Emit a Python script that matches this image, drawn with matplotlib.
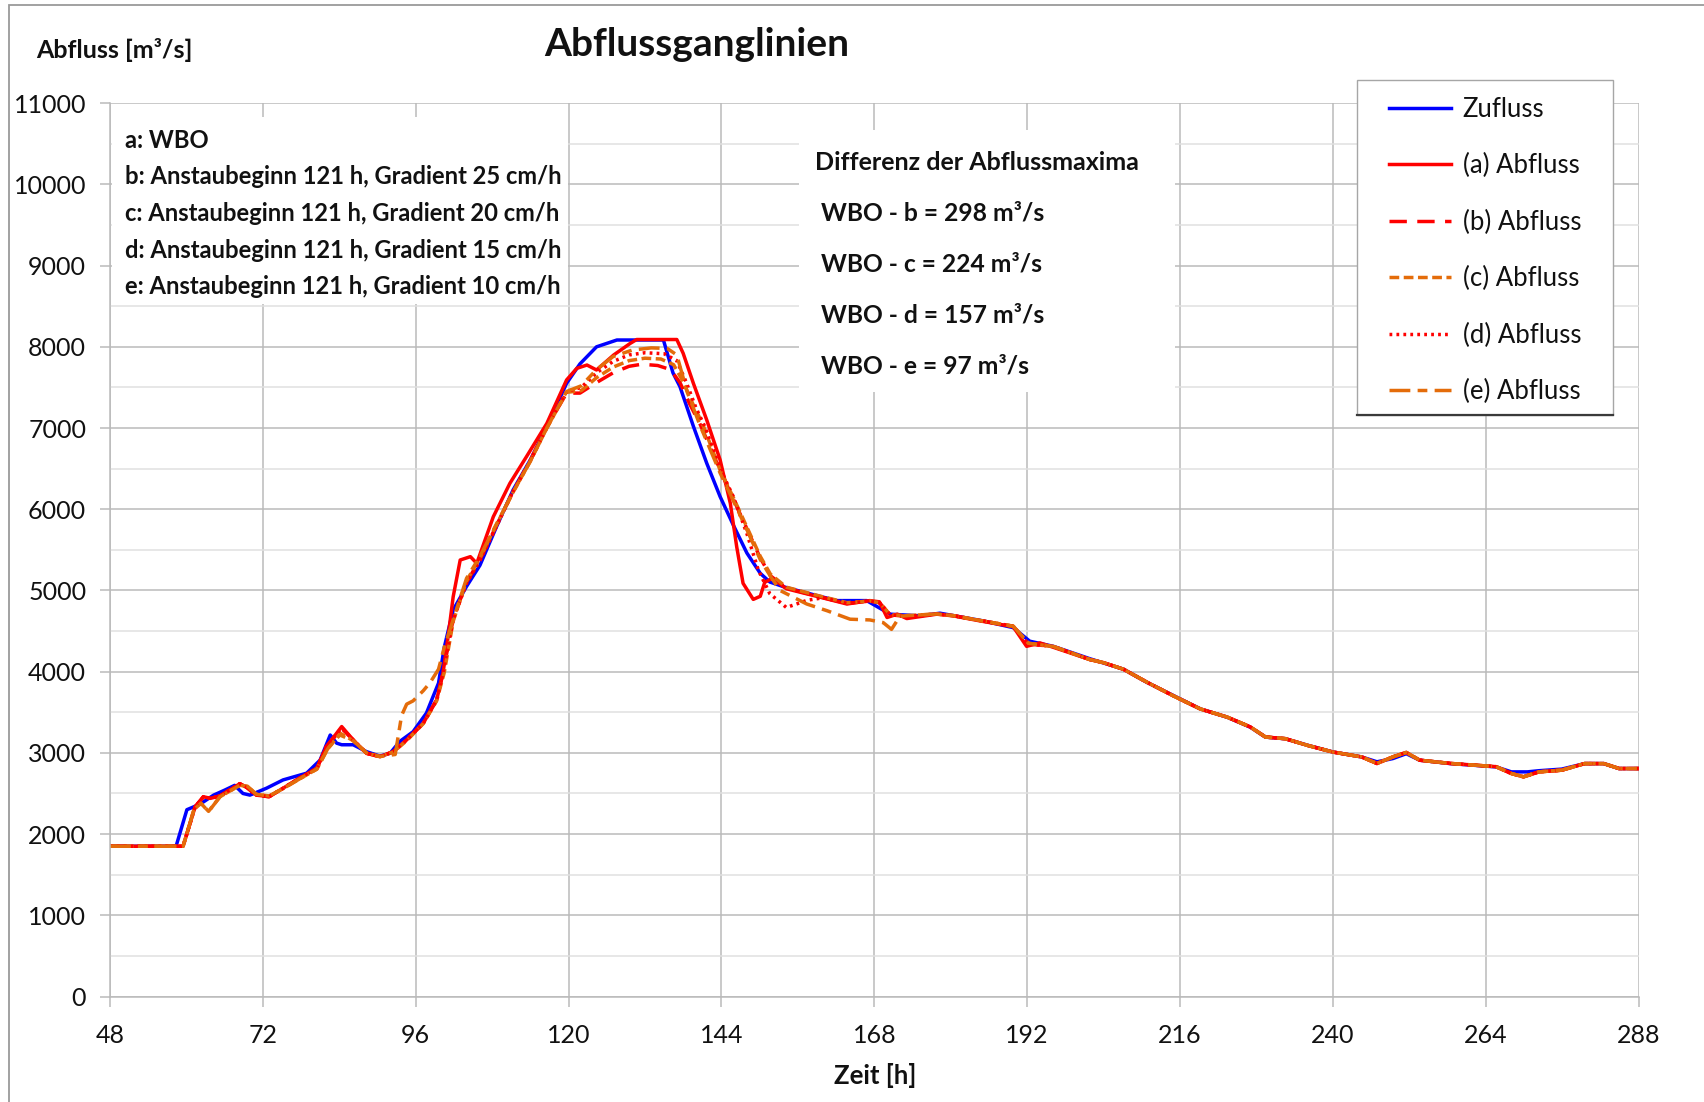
import numpy as np
import matplotlib.pyplot as plt
from matplotlib.patches import Rectangle
from matplotlib.lines import Line2D

plt.rcParams['font.family'] = ['Lato', 'DejaVu Sans']

# Zufluss (blue)
t_zu = [48, 58.4, 60.1, 62.2, 64.3, 66, 67.6, 68.9, 70.0, 72.6, 75.2, 78.9, 81.0, 82.6, 83.6, 84.4, 86.2, 88.3,
        90.4, 92.0, 93.5, 95.6, 97.7, 99.6, 100.5, 101.9, 104.0, 106.1, 108.7, 111.3, 114.0, 116.6, 119.7, 121.8,
        124.4, 127.6, 134.9, 136.4, 137.5, 139.6, 141.7, 143.8, 145.9, 148.0, 150.1, 151.6, 154, 156.9, 162.1,
        166.8, 170.5, 175.2, 178.3, 185.1, 189.8, 192.4, 196.1, 201.8, 207.1, 210.8, 215, 219.2, 223.4, 227,
        229.4, 232.5, 236.1, 240, 244.5, 246.9, 249.4, 251.5, 253.6, 258.4, 262, 265.6, 268, 270.5, 272.3,
        275.9, 279.5, 282.5, 284.9, 288]
q_zu = [1850, 1850, 2300, 2370, 2480, 2540, 2600, 2500, 2480, 2565, 2667, 2750, 2910, 3220, 3120, 3100, 3100, 3015,
        2960, 2995, 3140, 3260, 3490, 3860, 4300, 4760, 5050, 5310, 5785, 6237, 6607, 7016, 7551, 7790,
        8000, 8084, 8084, 7679, 7509, 7022, 6566, 6155, 5800, 5461, 5211, 5104, 5040, 4979, 4875,
        4875, 4708, 4687, 4720, 4625, 4542, 4375, 4312, 4160, 4031, 3868, 3704, 3541, 3439, 3317,
        3194, 3174, 3092, 3011, 2950, 2890, 2930, 2990, 2910, 2868, 2848, 2827, 2766, 2766, 2780,
        2800, 2868, 2868, 2807, 2807]

# common tail of the outflow series (a)-(e)
t_tail = [201.8, 204, 207.1, 210.8, 215, 219.2, 223.4, 227, 229.4, 232.5, 236.1, 240, 244.5, 246.9, 249.4,
          251.5, 253.6, 258.4, 262, 265.6, 268, 269.9, 272.3, 275.9, 279.5, 282.5, 284.9, 288]
q_tail = [4150, 4110, 4030, 3870, 3700, 3540, 3440, 3320, 3195, 3175, 3090, 3010, 2950, 2870, 2950,
          3005, 2910, 2870, 2850, 2830, 2746, 2705, 2766, 2787, 2868, 2868, 2807, 2807]

# (a) WBO
t_a = [48, 59.5, 61.4, 62.7, 63.8, 65.3, 68.4, 69.4, 71.0, 73.0, 75.2, 77.8, 80.5, 82.0, 84.4, 86.2, 88.3, 90.4,
       92.5, 94.6, 97.2, 99.3, 100.3, 101.1, 101.9, 103.0, 104.6, 105.6, 108.2, 110.8, 113.4, 116.6, 119.7, 121.3,
       122.9, 124.4, 127.1, 129.7, 130.7, 137.0, 138.0, 139.6, 141.7, 143.8, 145.4, 146.4, 147.4, 149.0, 150.1,
       150.8, 152, 154.2, 159.5, 163.7, 167.3, 168.8, 170.0, 171.6, 173.1, 177.8, 180.4, 184.6, 189.8, 191.9,
       194.0, 196.1]
q_a = [1850, 1850, 2337, 2460, 2440, 2470, 2620, 2580, 2480, 2460, 2565, 2690, 2810, 3077, 3324, 3160, 2995, 2953,
       3015, 3160, 3364, 3652, 3980, 4431, 4923, 5375, 5416, 5334, 5908, 6319, 6647, 7057, 7592, 7735,
       7776, 7715, 7900, 8043, 8090, 8090, 7920, 7551, 7099, 6607, 6073, 5539, 5088, 4890, 4928,
       5100, 5150, 5021, 4917, 4833, 4875, 4860, 4667, 4708, 4654, 4708, 4687, 4625, 4554, 4312,
       4354, 4300]

# (b) gradient 25 cm/h
t_b = [48, 59.5, 61.4, 62.7, 63.8, 65.3, 68.4, 69.4, 71.0, 73.0, 75.2, 77.8, 80.5, 82.0, 84.4, 86.2, 88.3, 90.4,
       92.5, 94.6, 97.2, 99.3, 100.3, 101.9, 104.0, 106.1, 108.7, 111.3, 114.0, 116.6, 119.7, 121.8, 124.4, 127.0,
       129.5, 131.5, 134.0, 136.0, 137.5, 139.0, 140.7, 143.8, 145.9, 148.0, 150.1, 151.7, 154.2, 159.5, 163.7,
       167.3, 168.8, 170.5, 173.1, 177.8, 180.4, 184.6, 189.8, 192.2, 196.1]
q_b = [1850, 1850, 2337, 2460, 2440, 2470, 2620, 2580, 2480, 2460, 2565, 2690, 2810, 3077, 3300, 3160, 2995, 2953,
       3015, 3160, 3364, 3652, 3980, 4650, 5100, 5380, 5800, 6220, 6600, 7010, 7430, 7430, 7560, 7680,
       7760, 7786, 7770, 7720, 7560, 7300, 7040, 6480, 6120, 5760, 5400, 5180, 5030, 4920, 4840,
       4870, 4850, 4700, 4680, 4710, 4690, 4630, 4560, 4340, 4310]

# (c) gradient 20 cm/h
t_c = [48, 59.5, 61.2, 62.3, 63.5, 65.3, 68.4, 69.6, 71.0, 73.0, 75.2, 77.8, 80.5, 82.2, 84.2, 86.2, 88.3, 90.4,
       92.5, 94.6, 97.2, 99.3, 100.5, 101.9, 104.0, 106.1, 108.7, 111.3, 114.0, 116.6, 119.7, 122.0, 124.4, 127.0,
       129.5, 132.0, 134.5, 136.5, 138.0, 139.5, 141.0, 143.8, 145.9, 148.0, 150.1, 151.7, 154.2, 159.5, 163.7,
       167.3, 168.8, 170.5, 173.1, 177.8, 180.4, 184.6, 189.8, 192.2, 196.1]
q_c = [1850, 1850, 2300, 2380, 2280, 2460, 2600, 2590, 2490, 2470, 2560, 2680, 2800, 3050, 3240, 3150, 3000, 2955,
       3010, 3150, 3360, 3640, 3990, 4620, 5120, 5400, 5810, 6210, 6590, 7000, 7440, 7460, 7620, 7750,
       7830, 7860, 7850, 7780, 7570, 7300, 7060, 6480, 6140, 5780, 5420, 5200, 5040, 4930, 4850,
       4870, 4850, 4700, 4690, 4710, 4690, 4630, 4560, 4350, 4310]

# (d) gradient 15 cm/h
t_d = [48, 59.5, 61.4, 62.7, 63.8, 65.3, 68.4, 69.4, 71.0, 73.0, 75.2, 77.8, 80.5, 82.0, 84.4, 86.2, 88.3, 90.4,
       92.5, 94.6, 97.2, 99.3, 100.3, 101.9, 104.0, 106.1, 108.7, 111.3, 114.0, 116.6, 119.7, 122.0, 124.4, 127.0,
       129.5, 132.0, 135.0, 137.0, 138.5, 140.0, 141.5, 143.8, 145.9, 148.0, 149.8, 151.6, 154.2, 157.5, 160.0,
       163.7, 167.3, 168.8, 170.5, 173.1, 177.8, 180.4, 184.6, 189.8, 192.2, 196.1]
q_d = [1850, 1850, 2337, 2460, 2440, 2470, 2620, 2580, 2480, 2460, 2565, 2690, 2810, 3077, 3310, 3160, 2995, 2953,
       3015, 3160, 3364, 3652, 3980, 4640, 5090, 5370, 5790, 6220, 6600, 7010, 7450, 7500, 7680, 7820,
       7900, 7927, 7915, 7830, 7560, 7250, 7000, 6500, 6150, 5700, 5250, 4960, 4790, 4880, 4910,
       4840, 4870, 4850, 4700, 4680, 4710, 4690, 4630, 4560, 4340, 4310]

# (e) gradient 10 cm/h
t_e = [48, 59.5, 61.2, 62.3, 63.5, 65.3, 68.4, 69.6, 71.0, 73.0, 75.2, 77.8, 80.5, 82.2, 84.1, 86.2, 88.3, 90.4,
       92.8, 93.8, 94.6, 95.6, 97.2, 98.3, 99.6, 100.5, 101.9, 104.0, 106.1, 108.7, 111.3, 114.0, 116.6, 119.7,
       122.0, 124.4, 127.0, 130.0, 133.0, 135.5, 137.0, 138.6, 140.7, 143.8, 145.9, 148.0, 150.1, 151.7, 153.2,
       157.4, 160.6, 164.2, 167.3, 169.4, 170.7, 172.0, 173.1, 177.8, 180.4, 184.6, 189.8, 192.2, 196.1]
q_e = [1850, 1850, 2300, 2380, 2276, 2460, 2600, 2590, 2490, 2470, 2560, 2680, 2800, 3050, 3220, 3150, 3000, 2955,
       2980, 3460, 3600, 3640, 3765, 3868, 4030, 4300, 4640, 5150, 5420, 5820, 6210, 6590, 7000, 7450,
       7520, 7720, 7880, 7960, 7987, 7980, 7900, 7450, 7022, 6446, 6100, 5749, 5380, 5174, 5000,
       4833, 4750, 4646, 4637, 4604, 4521, 4680, 4690, 4710, 4690, 4630, 4560, 4350, 4310]

labels = ['Zufluss', '(a) Abfluss', '(b) Abfluss', '(c) Abfluss', '(d) Abfluss', '(e) Abfluss']
scenario_lines = ['a: WBO',
                  'b: Anstaubeginn 121 h, Gradient 25 cm/h',
                  'c: Anstaubeginn 121 h, Gradient 20 cm/h',
                  'd: Anstaubeginn 121 h, Gradient 15 cm/h',
                  'e: Anstaubeginn 121 h, Gradient 10 cm/h']
diff_lines = ['WBO - b = 298 m³/s', 'WBO - c = 224 m³/s', 'WBO - d = 157 m³/s', 'WBO - e = 97 m³/s']

BLUE = '#0000FF'
RED = '#FF0000'
ORANGE = '#E46C0A'
TXT = '#111111'
W = 1704.0
H = 1102.0

fig = plt.figure(figsize=(17.04, 11.02), dpi=100)
ax = fig.add_axes([109.8 / W, 1 - 996.5 / H, (1638.8 - 109.8) / W, (996.5 - 103.2) / H])

lw = 2.5
ax.plot(t_zu, q_zu, color=BLUE, lw=lw, label=labels[0])
ax.plot(t_a + t_tail, q_a + q_tail, color=RED, lw=lw, label=labels[1])
ax.plot(t_b + t_tail, q_b + q_tail, color=RED, lw=lw, ls=(0, (5.0, 3.0)), label=labels[2])
ax.plot(t_c + t_tail, q_c + q_tail, color=ORANGE, lw=lw, ls=(0, (2.8, 1.3)), label=labels[3])
ax.plot(t_d + t_tail, q_d + q_tail, color=RED, lw=lw, ls=(0, (0.8, 1.2)), label=labels[4])
ax.plot(t_e + t_tail, q_e + q_tail, color=ORANGE, lw=lw, ls=(0, (6.0, 2.1, 2.8, 2.1)), label=labels[5])

ax.set_xlim(48, 288)
ax.set_ylim(0, 11000)
ax.set_xticks(np.arange(48, 289, 24))
ax.set_yticks(np.arange(0, 11001, 1000))
ax.set_yticks(np.arange(500, 11000, 1000), minor=True)
ax.set_axisbelow(True)
ax.grid(which='major', color='#BABABA', lw=1.1)
ax.grid(which='minor', axis='y', color='#E0E0E0', lw=1.1)
for s in ['top', 'right']:
    ax.spines[s].set_visible(False)
for s in ['left', 'bottom']:
    ax.spines[s].set_color('#BABABA')
    ax.spines[s].set_linewidth(1.1)
ax.tick_params(which='major', direction='out', length=7, width=1.1, color='#BABABA',
               labelsize=18, pad=10, labelcolor=TXT)
ax.tick_params(axis='x', which='major', pad=13)
ax.tick_params(which='minor', length=0)

# legend with its own frame drawn as a figure patch
handles, hl = ax.get_legend_handles_labels()
fig.patches.append(Rectangle((1357 / W, 1 - 415 / H), 256 / W, 335 / H, transform=fig.transFigure,
                             facecolor='white', edgecolor='#A6A6A6', lw=1.0, zorder=2))
fig.lines.append(Line2D([1357 / W, 1613 / W], [1 - 415 / H, 1 - 415 / H], transform=fig.transFigure,
                        color='#3A3A3A', lw=1.6, zorder=2.5))
leg = fig.legend(handles, hl, loc='upper left', bbox_to_anchor=(1376 / W, 1 - 84 / H),
                 fontsize=18.5, frameon=False, borderaxespad=0, borderpad=0.5, labelspacing=1.22,
                 handlelength=2.4, handletextpad=0.47)
leg.set_zorder(5)
for t in leg.get_texts():
    t.set_color(TXT)

# white boxes behind the annotation texts
fig.patches.append(Rectangle((112 / W, 1 - 304 / H), 456 / W, 187 / H, transform=fig.transFigure,
                             facecolor='white', edgecolor='none', zorder=2))
fig.patches.append(Rectangle((799 / W, 1 - 392 / H), 376 / W, 262 / H, transform=fig.transFigure,
                             facecolor='white', edgecolor='none', zorder=2))

for i, s in enumerate(scenario_lines):
    fig.text(125 / W, 1 - (140 + i * 36.7) / H, s, fontsize=17.1, fontweight='bold', va='center',
             color=TXT, zorder=3)
fig.text(815 / W, 1 - 163 / H, 'Differenz der Abflussmaxima', fontsize=18, fontweight='bold',
         va='center', color=TXT, zorder=3)
for i, s in enumerate(diff_lines):
    fig.text(821 / W, 1 - (213 + i * 51) / H, s, fontsize=17.7, fontweight='bold', va='center',
             color=TXT, zorder=3)

fig.text(697 / W, 1 - 45 / H, 'Abflussganglinien', fontsize=28, fontweight='bold', ha='center',
         va='center', color=TXT)
fig.text(36 / W, 1 - 50 / H, 'Abfluss [m³/s]', fontsize=18, fontweight='bold', va='center', color=TXT)
fig.text(875 / W, 1 - 1075 / H, 'Zeit [h]', fontsize=18.5, fontweight='bold', ha='center', va='center',
         color=TXT)

# chart area border
fig.patches.append(Rectangle((9 / W, -0.02), 1.2, 1.02 - 5 / H, transform=fig.transFigure,
                             fill=False, edgecolor='#9A9A9A', lw=1.3, zorder=4))

fig.savefig('out.png', dpi=100)
